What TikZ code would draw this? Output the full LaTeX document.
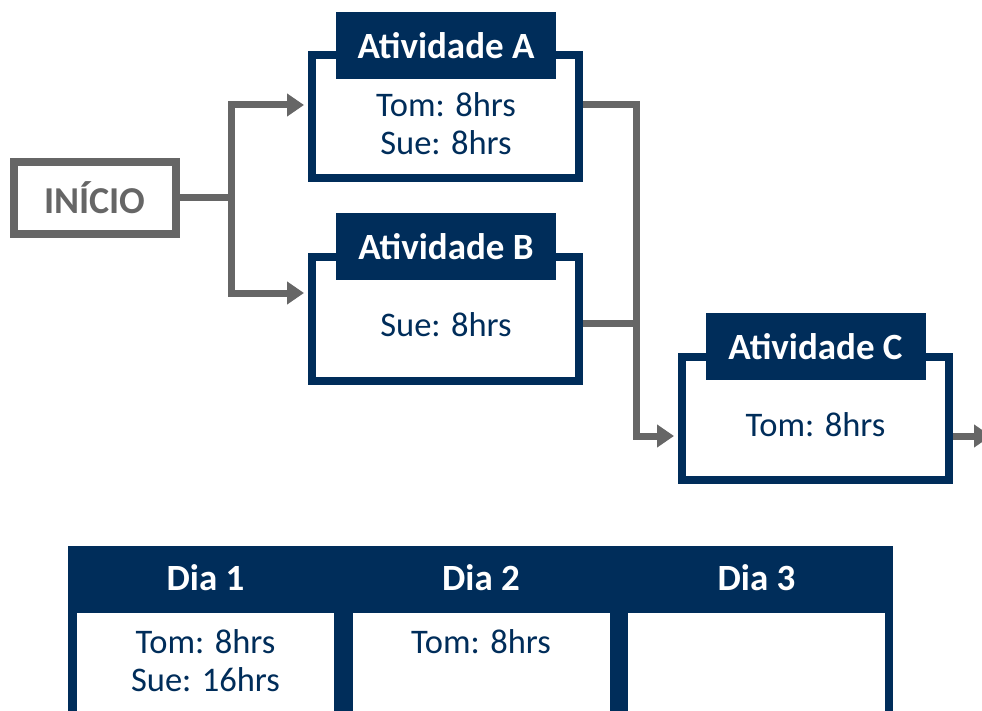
\documentclass[tikz,border=0pt]{standalone}
\usepackage{fontspec}
\setmainfont{Carlito}
\usetikzlibrary{arrows.meta,backgrounds}
\definecolor{navy}{RGB}{0,45,90}
\definecolor{grayline}{RGB}{102,102,102}

\begin{document}
\begin{tikzpicture}[x=1pt, y=-1pt,
        every node/.style={font=\fontsize{34.5}{38}\selectfont, text=navy, align=center},
        box/.style={draw=navy, line width=8pt, minimum width=267pt, minimum height=123pt, fill=white},
        head/.style={fill=navy, text=white, font=\fontsize{37}{40}\selectfont\bfseries, minimum width=220pt, minimum height=67pt},
        cell/.style={fill=white, minimum width=257pt, minimum height=110pt, inner sep=0pt, anchor=north},
        line/.style={draw=grayline, line width=7pt, line cap=rect},
        conn/.style={line, -{Triangle[length=17pt,width=22pt]}, shorten >=4pt}]
        \clip (0,0) rectangle (982,711);
        \node[draw=grayline, line width=8pt, minimum width=162pt, minimum height=72pt, text=grayline, font=\fontsize{38}{40}\selectfont\bfseries] (ini) at (95,198) {INÍCIO};
        \node[box] (a) at (445.5,117) {};
        \node[head] (ha) at (446,46) {Atividade A};
        \node (ta) at (446,124) {Tom: 8hrs\\Sue: 8hrs};
        \node[box] (b) at (445.5,319) {};
        \node[head] (hb) at (446,246.5) {Atividade B};
        \node (tb) at (446,325) {Sue: 8hrs};
        \node[box] (c) at (815.5,418) {};
        \node[head] (hc) at (815.5,346.5) {Atividade C};
        \node (tc) at (815.5,425) {Tom: 8hrs};
        \coordinate (j1) at (231,198);
        \coordinate (j2) at (636,323);
        \coordinate (out) at (991,436);
        \begin{scope}[on background layer]
            \draw[line] (ini.east) -- (j1);
            \draw[conn] (j1) |- ([yshift=12pt]a.west);
            \draw[conn] (j1) |- ([yshift=26pt]b.west);
            \draw[conn] ([yshift=12pt]a.east) -| (j2) |- ([yshift=-18pt]c.west);
            \draw[line] ([yshift=-4pt]b.east) -- (j2);
            \draw[conn, shorten >=0pt] ([yshift=-18pt]c.east) -- (out);
        \end{scope}
        % tabela dos dias
        \fill[navy] (68,546) rectangle (893,720);
        \node[head, fill=none] (d1) at (205.5,578) {Dia 1};
        \node[head, fill=none] (d2) at (481,578) {Dia 2};
        \node[head, fill=none] (d3) at (756.5,578) {Dia 3};
        \node[cell] (c1) at (205.5,613) {};
        \node[cell] (c2) at (481,613) {};
        \node[cell] (c3) at (756.5,613) {};
        \node (t1) at (205.5,661) {Tom: 8hrs\\Sue: 16hrs};
        \node (t2) at (481,642) {Tom: 8hrs};
\end{tikzpicture}
\end{document}
